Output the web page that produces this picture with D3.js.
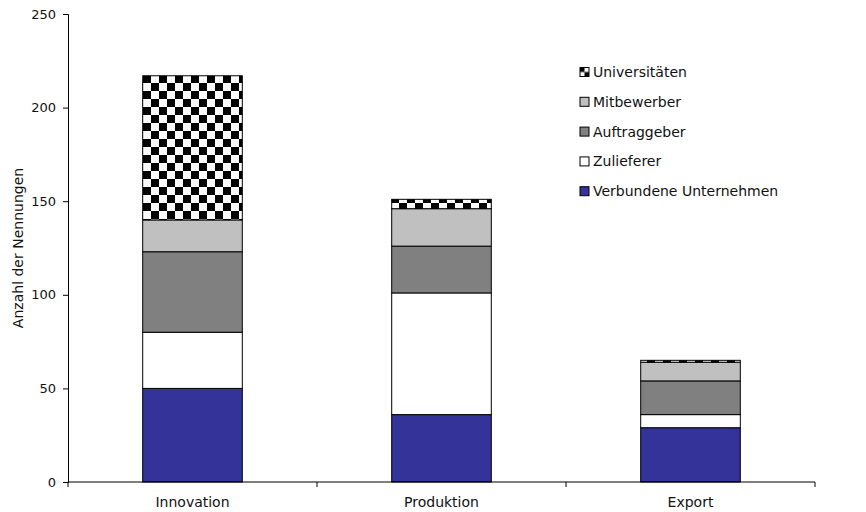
<!DOCTYPE html>
<html>
<head>
<meta charset="utf-8">
<script src="https://cdn.jsdelivr.net/npm/d3@7"></script>
<style>
  body { margin: 0; background: #fff; }
  svg { display: block; font-family: "DejaVu Sans", sans-serif; }
</style>
</head>
<body>
<svg id="chart" width="866" height="512"></svg>
<script>
// Categories along the x axis
const categories = ["Innovation", "Produktion", "Export"];
// Stack order, bottom to top
const seriesNames = ["Verbundene Unternehmen", "Zulieferer", "Auftraggeber", "Mitbewerber", "Universitäten"];
// Values per series (Innovation, Produktion, Export)
const verbundene = [50, 36, 29];
const zulieferer = [30, 65, 7];
const auftraggeber = [43, 25, 18];
const mitbewerber = [17, 20, 10];
const universitaeten = [77, 5, 1];
const yTicks = [0, 50, 100, 150, 200, 250];
const yTitle = "Anzahl der Nennungen";

const seriesValues = [verbundene, zulieferer, auftraggeber, mitbewerber, universitaeten];
const rows = categories.map((c, i) => {
  const r = { category: c };
  seriesNames.forEach((s, k) => { r[s] = seriesValues[k][i]; });
  return r;
});

const svg = d3.select("#chart");
const margin = { left: 68, right: 51, top: 14, bottom: 30 };
const W = 866, H = 512;

const x = d3.scaleBand().domain(categories)
  .range([margin.left, W - margin.right]).paddingInner(0.6).paddingOuter(0.3);
const y = d3.scaleLinear().domain([0, 250]).range([H - margin.bottom, margin.top]);

// Checkerboard fills
const defs = svg.append("defs");
const checker = defs.append("pattern").attr("id", "checker")
  .attr("patternUnits", "userSpaceOnUse").attr("width", 16).attr("height", 16)
  .attr("x", 143).attr("y", 75);
checker.append("rect").attr("width", 16).attr("height", 16).attr("fill", "#fff");
checker.append("rect").attr("width", 8).attr("height", 8).attr("fill", "#000");
checker.append("rect").attr("x", 8).attr("y", 8).attr("width", 8).attr("height", 8).attr("fill", "#000");

const checkerSmall = defs.append("pattern").attr("id", "checkerSmall")
  .attr("patternUnits", "objectBoundingBox").attr("width", 1).attr("height", 1);
checkerSmall.append("rect").attr("width", 9).attr("height", 9).attr("fill", "#fff");
checkerSmall.append("rect").attr("width", 4.5).attr("height", 4.5).attr("fill", "#000");
checkerSmall.append("rect").attr("x", 4.5).attr("y", 4.5).attr("width", 4.5).attr("height", 4.5).attr("fill", "#000");

const fills = {
  "Verbundene Unternehmen": "#333399",
  "Zulieferer": "#ffffff",
  "Auftraggeber": "#808080",
  "Mitbewerber": "#c0c0c0",
  "Universitäten": "url(#checker)"
};

const stacked = d3.stack().keys(seriesNames)(rows);

svg.append("g").selectAll("g").data(stacked).join("g")
  .attr("fill", d => fills[d.key])
  .selectAll("rect").data(d => d).join("rect")
  .attr("x", d => x(d.data.category))
  .attr("width", x.bandwidth())
  .attr("y", d => y(d[1]))
  .attr("height", d => y(d[0]) - y(d[1]))
  .attr("stroke", "#000").attr("stroke-width", 1);

// Axes
svg.append("g").attr("transform", `translate(${margin.left},0)`)
  .call(d3.axisLeft(y).tickValues(yTicks).tickSize(5).tickPadding(7));
const xAxis = svg.append("g").attr("transform", `translate(0,${y(0)})`)
  .call(d3.axisBottom(x).tickSize(0).tickPadding(15));
// Category separators on the x axis
const edges = d3.range(categories.length + 1)
  .map(i => margin.left + i * (W - margin.left - margin.right) / categories.length);
xAxis.selectAll(".sep").data(edges).join("line").attr("class", "sep")
  .attr("x1", d => d).attr("x2", d => d).attr("y1", 0).attr("y2", 5).attr("stroke", "#000");
xAxis.select(".domain").attr("d", `M${margin.left},0H${W - margin.right}`);

svg.selectAll(".domain, .tick line").attr("stroke", "#000");
svg.selectAll(".tick text").attr("font-size", 13).attr("fill", "#111")
  .attr("font-family", "'DejaVu Sans', sans-serif");
xAxis.selectAll(".tick text").attr("font-size", 14);

svg.append("text")
  .attr("transform", `translate(23,${(y(0) + y(250)) / 2}) rotate(-90)`)
  .attr("text-anchor", "middle").attr("font-size", 14).attr("fill", "#111").text(yTitle);

// Legend, top entry first
const legendOrder = seriesNames.slice().reverse();
const lg = svg.append("g").attr("transform", "translate(580,72)");
const item = lg.selectAll("g").data(legendOrder).join("g")
  .attr("transform", (d, i) => `translate(0,${i * 29.8})`);
item.append("rect").attr("x", 0).attr("y", -4.5).attr("width", 9).attr("height", 9)
  .attr("fill", d => d === "Universitäten" ? "url(#checkerSmall)" : fills[d])
  .attr("stroke", "#000").attr("stroke-width", 1);
item.append("text").attr("x", 13).attr("y", 5).attr("font-size", 14).attr("fill", "#111").text(d => d);
</script>
</body>
</html>
